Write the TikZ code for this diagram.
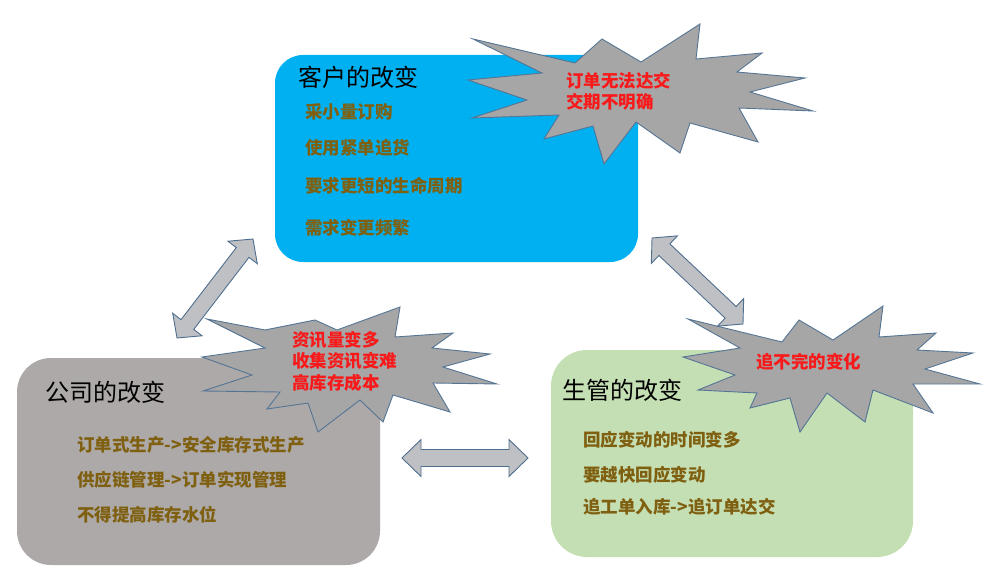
\documentclass[tikz,border=0pt]{standalone}
\usepackage{fontspec}
\setmainfont{Noto Sans CJK SC}
\definecolor{blueBox}{HTML}{00B0F0}
\definecolor{grayBox}{HTML}{ADA9A8}
\definecolor{greenBox}{HTML}{C5DFB4}
\definecolor{starFill}{HTML}{A6A6A6}
\definecolor{starLine}{HTML}{557595}
\definecolor{arrFill}{HTML}{BFC0C4}
\definecolor{arrLine}{HTML}{4F6F8F}
\definecolor{itemBrown}{HTML}{7F6010}
\definecolor{alertRed}{HTML}{F81A1A}
\tikzset{
  panel/.style={rounded corners=#1, draw=none},
  burst/.style={fill=starFill, draw=starLine, line width=0.9pt, line join=miter},
  titletext/.style={anchor=west, inner sep=0, font=\fontsize{24}{28}\selectfont, text=black},
  itemtext/.style={anchor=west, inner sep=0, font=\fontsize{17.5}{21}\selectfont\bfseries, text=itemBrown},
  redtext/.style={anchor=west, inner sep=0, font=\fontsize{17.5}{21.5}\selectfont\bfseries, text=alertRed, align=left},
  blockarrow/.style={fill=arrFill, draw=arrLine, line width=0.9pt, line join=miter},
  pics/dblarrow/.style n args={4}{code={
    \draw[blockarrow] (-#1,0) -- (-#1+#4,#3) -- (-#1+#4,#2) -- (#1-#4,#2) -- (#1-#4,#3) -- (#1,0)
      -- (#1-#4,-#3) -- (#1-#4,-#2) -- (-#1+#4,-#2) -- (-#1+#4,-#3) -- cycle;
  }}
}
\begin{document}
\begin{tikzpicture}[x=1pt,y=-1pt]
\useasboundingbox (0,0) rectangle (991,578);
% panels
\fill[panel=28pt, blueBox] (275,55) rectangle (638,262);
\fill[panel=34pt, grayBox] (17,358) rectangle (380,565);
\fill[panel=36pt, greenBox] (551,350) rectangle (913,557);
% burst 1
\draw[burst] (473,39) -- (575,63) -- (602,39) -- (641,62) -- (700,24) -- (696,59) -- (762,53)
  -- (737,72) -- (805,78) -- (750,92) -- (813,111) -- (739,108) -- (758,142) -- (690,123)
  -- (680,153) -- (636,122) -- (604,164) -- (593,126) -- (544,139) -- (559,115) -- (472,118)
  -- (527,100) -- (468,80) -- (542,73) -- cycle;
% burst 2
\draw[burst] (207,319) -- (265,330) -- (315,320) -- (337,330) -- (400,307) -- (395,337) -- (453,333)
  -- (432,348) -- (490,354) -- (443,367) -- (497,384) -- (433,383) -- (450,412) -- (393,395)
  -- (383,422) -- (360,400) -- (318,432) -- (308,403) -- (267,409) -- (280,392) -- (203,391)
  -- (252,375) -- (202,357) -- (265,348) -- cycle;
% burst 3
\draw[burst] (688,319) -- (782,342) -- (799,320) -- (833,340) -- (883,306) -- (879,337) -- (936,333)
  -- (917,350) -- (973,353) -- (925,369) -- (980,384) -- (913,384) -- (933,413) -- (873,390)
  -- (865,422) -- (827,393) -- (800,432) -- (790,398) -- (750,408) -- (757,393) -- (698,390)
  -- (735,375) -- (683,357) -- (740,348) -- cycle;
% arrows
\pic[rotate=52.5] at (215,288.5) {dblarrow={62.4}{8}{18.5}{17}};
\pic[rotate=-43.4] at (697.5,281) {dblarrow={62.6}{8}{19}{17}};
\pic at (465,458) {dblarrow={63}{8.5}{18.5}{19}};
% titles
\node[titletext] (t1) at (298,77) {客户的改变};
\node[titletext] (t2) at (45,392) {公司的改变};
\node[titletext] (t3) at (562,390) {生管的改变};
% customer items
\node[itemtext] (c1) at (305,112) {采小量订购};
\node[itemtext] (c2) at (305,148) {使用紧单追货};
\node[itemtext] (c3) at (305,186) {要求更短的生命周期};
\node[itemtext] (c4) at (305,228) {需求变更频繁};
% company items
\node[itemtext] (k1) at (77,445) {订单式生产->安全库存式生产};
\node[itemtext] (k2) at (77,480) {供应链管理->订单实现管理};
\node[itemtext] (k3) at (77,515) {不得提高库存水位};
% production items
\node[itemtext] (p1) at (583,440) {回应变动的时间变多};
\node[itemtext] (p2) at (583,475) {要越快回应变动};
\node[itemtext] (p3) at (583,507) {追工单入库->追订单达交};
% red texts
\node[redtext] (r1) at (566,91.5) {订单无法达交\\交期不明确};
\node[redtext] (r2) at (292,361) {资讯量变多\\收集资讯变难\\高库存成本};
\node[redtext] (r3) at (756,362) {追不完的变化};
\end{tikzpicture}
\end{document}
